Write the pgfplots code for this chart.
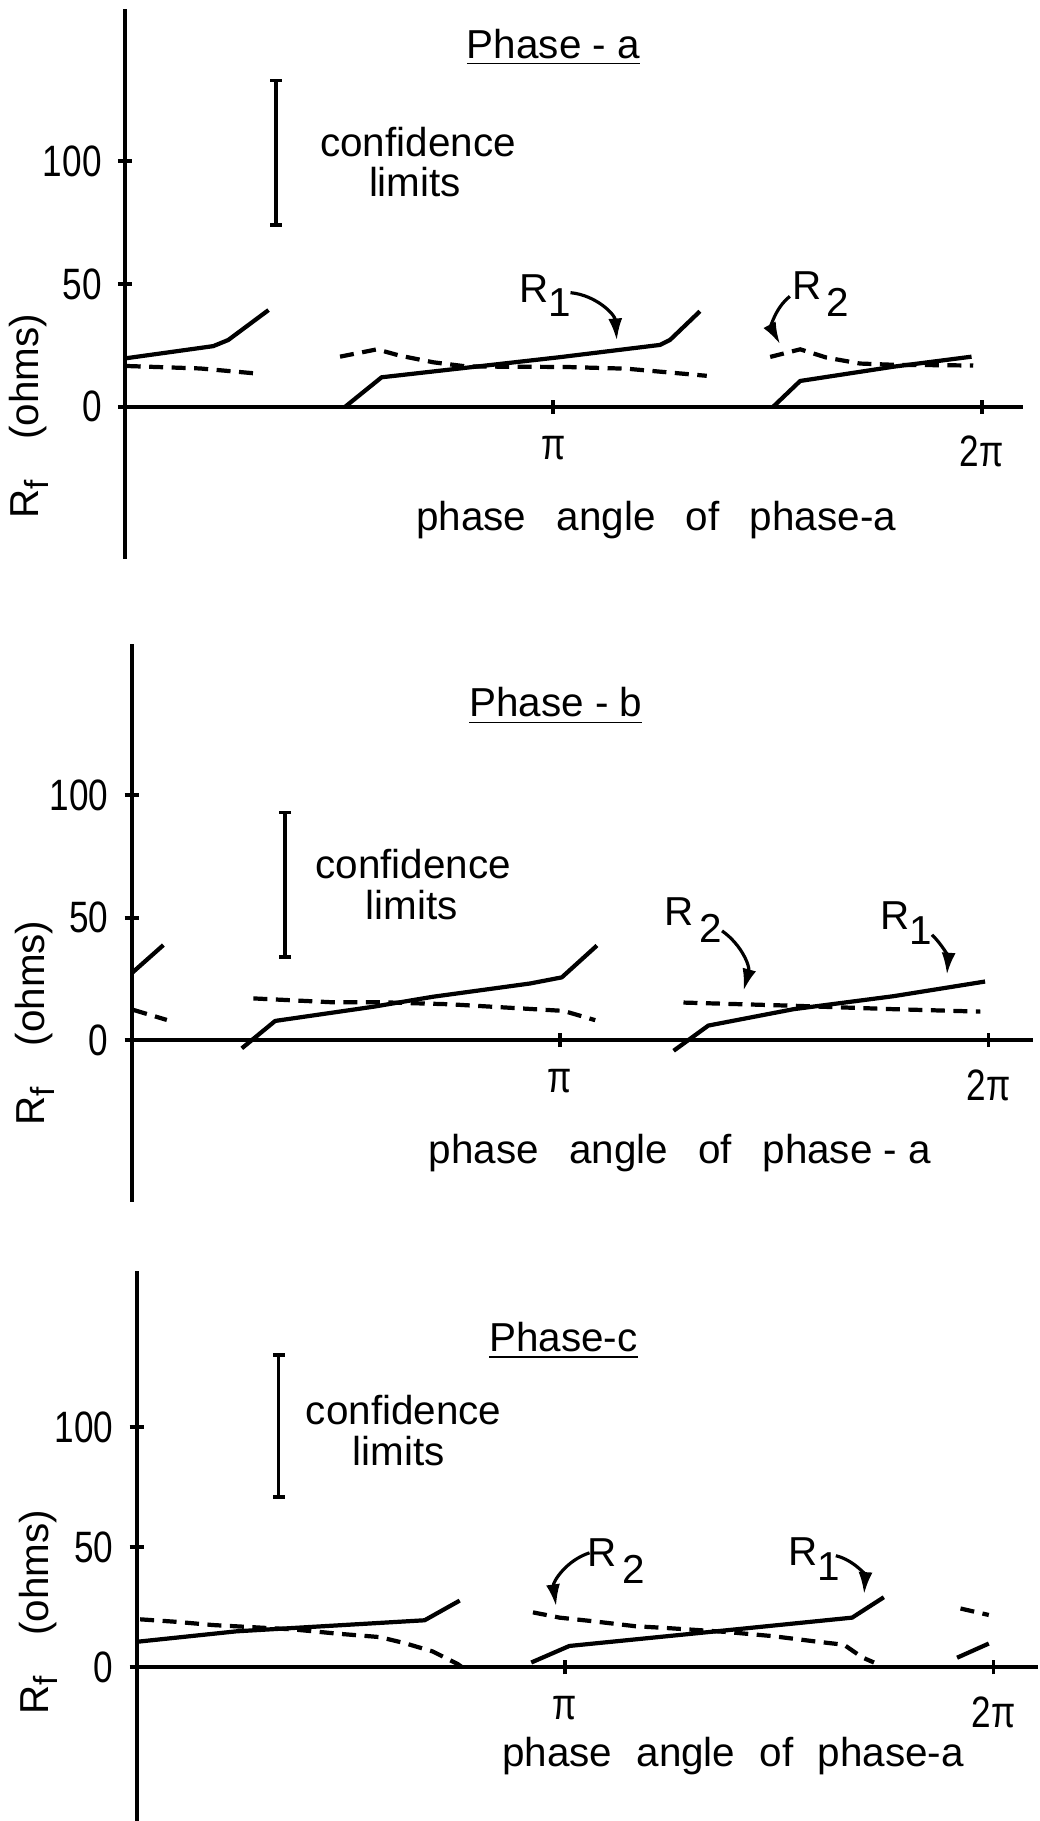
\documentclass[border=0pt]{standalone}
\usepackage{fontspec}
\setmainfont{Liberation Sans}
\newfontfamily\narrowdigitsfont{Liberation Sans}[FakeStretch=0.8]
\usepackage{pgfplots}
\pgfplotsset{compat=1.18}
\usetikzlibrary{arrows.meta}

\tikzset{arr/.style={line width=0.9pt, -{Latex[length=2.2mm,width=1.4mm]}}}
\pgfplotsset{
  panel/.style={
    x=42.84mm, xmin=0,
    axis x line=middle, axis y line=left,
    axis line style={-, line width=1.1pt, black},
    every inner x axis line/.append style={-},
    every outer y axis line/.append style={-},
    xtick={1,2}, xticklabels={π,2π},
    ytick={0,50,100},
    tick align=center, major tick length=1.4mm,
    tick style={line width=1.1pt, black},
    hide obscured x ticks=false, hide obscured y ticks=false,
    clip=false, enlargelimits=false,
    xticklabel style={yshift=-1mm},
    yticklabel style={xshift=-0.4mm},
    anchor=south west,
    /pgf/number format/assume math mode=true,
    tick label style={font=\narrowdigitsfont\fontsize{12.5}{14}\selectfont},
  },
  Rone/.style={black, line width=1.2pt, line join=round, mark=none},
  Rtwo/.style={black, line width=1.2pt, dash pattern=on 1.4mm off 0.85mm, mark=none},
  conf/.style={black, line width=1.1pt, mark=-, mark size=0.6mm, mark options={solid, line width=1.1pt}},
}

\begin{document}
\begin{tikzpicture}[font=\fontsize{11.5}{13.8}\selectfont]

% ---------------- Phase a ----------------
\begin{axis}[panel, y=0.2453mm, ymin=-62, ymax=162, xmax=2.096, at={(12.5mm,-55.88mm)}]
\addplot[Rone] coordinates {(0,19.7) (0.206,24.7) (0.241,27.2) (0.335,39.4)};
\addplot[Rtwo] coordinates {(0.004,16.6) (0.175,15.6) (0.303,13.6)};
\addplot[Rone] coordinates {(0.514,0) (0.599,12) (1.015,20.2) (1.249,25.2) (1.272,27.2) (1.342,38.9)};
\addplot[Rtwo] coordinates {(0.502,20.4) (0.588,23.4) (0.642,20.8) (0.72,18.1) (0.798,16.4) (1.03,16.2) (1.171,15.5) (1.358,12.6)};
\addplot[Rone] coordinates {(1.513,0) (1.576,10.5) (1.793,16.3) (1.976,20.4)};
\addplot[Rtwo] coordinates {(1.506,20.3) (1.576,23.4) (1.638,20) (1.716,17.6) (1.793,17.1) (1.98,16.8)};
\addplot[conf] coordinates {(0.352,74) (0.352,133)};
\node at (axis cs:1.0,146.6) {\underline{Phase - a}};
\node at (axis cs:0.684,108) {confidence};
\node at (axis cs:0.677,91.6) {limits};
\node at (axis cs:1.24,-46) {phase\hspace{0.75em}angle\hspace{0.75em}of\hspace{0.75em}phase-a};
\node[rotate=90] at (axis cs:-0.224,-3.8) {R\raisebox{-0.45ex}{\fontsize{9.5}{11}\selectfont f}\hspace{1em}(ohms)};
\node at (axis cs:0.98,45.3) {R\raisebox{-0.7ex}{1}};
\draw[arr] (axis cs:1.04,46.5) to[bend left=40] (axis cs:1.148,27);
\node at (axis cs:1.625,45.9) {R\kern0.12em\raisebox{-0.8ex}{2}};
\draw[arr] (axis cs:1.552,45) to[bend right=40] (axis cs:1.529,25.5);
\end{axis}

% ---------------- Phase b ----------------
\begin{axis}[panel, y=0.2447mm, ymin=-66, ymax=162, xmax=2.104, at={(13.17mm,-120.15mm)}]
\addplot[Rone] coordinates {(0,27.3) (0.074,38.8)};
\addplot[Rtwo] coordinates {(0.004,12.3) (0.082,8.2)};
\addplot[Rone] coordinates {(0.257,-3.4) (0.335,7.8) (0.564,13.6) (0.704,17.7) (0.93,23.1) (1.004,25.6) (1.086,38.6)};
\addplot[Rtwo] coordinates {(0.284,17) (0.471,15.4) (0.587,15.4) (0.743,14.6) (1.008,11.9) (1.082,8.1)};
\addplot[Rone] coordinates {(1.265,-4.4) (1.346,5.9) (1.545,12.6) (1.778,17.9) (1.992,23.9)};
\addplot[Rtwo] coordinates {(1.288,15.3) (1.545,14) (1.778,12.6) (1.981,11.6)};
\addplot[conf] coordinates {(0.358,34) (0.358,93)};
\node at (axis cs:0.99,136.5) {\underline{Phase - b}};
\node at (axis cs:0.657,72) {confidence};
\node at (axis cs:0.654,55) {limits};
\node at (axis cs:1.28,-46) {phase\hspace{0.75em}angle\hspace{0.75em}of\hspace{0.75em}phase - a};
\node[rotate=90] at (axis cs:-0.226,7) {R\raisebox{-0.45ex}{\fontsize{9.5}{11}\selectfont f}\hspace{1em}(ohms)};
\node at (axis cs:1.311,48.9) {R\kern0.15em\raisebox{-0.8ex}{2}};
\draw[arr] (axis cs:1.378,44.6) to[bend left=35] (axis cs:1.428,20.1);
\node at (axis cs:1.808,47.8) {R\raisebox{-0.7ex}{1}};
\draw[arr] (axis cs:1.868,43) to[bend left=25] (axis cs:1.903,26.7);
\end{axis}

% ---------------- Phase c ----------------
\begin{axis}[panel, y=0.24mm, ymin=-64, ymax=165, xmax=2.103, at={(13.67mm,-182.09mm)}]
\addplot[Rone] coordinates {(0.004,10.7) (0.233,15) (0.672,19.6) (0.754,27.8)};
\addplot[Rtwo] coordinates {(0.008,20) (0.089,19) (0.179,17.6) (0.365,15.8) (0.47,14) (0.567,12.6) (0.625,10.1) (0.691,6.6) (0.749,1.4) (0.76,0)};
\addplot[Rone] coordinates {(0.921,2) (1.01,8.9) (1.375,15.4) (1.67,20.7) (1.744,29.2)};
\addplot[Rtwo] coordinates {(0.925,22.9) (0.987,20.7) (1.06,19.3) (1.165,17.1) (1.235,16.4) (1.379,14.7) (1.484,13) (1.592,10.6) (1.651,9.4) (1.694,4.1) (1.721,2)};
\addplot[Rone] coordinates {(1.915,4) (1.989,9.9)};
\addplot[Rtwo] coordinates {(1.923,24.5) (1.989,21.8)};
\addplot[conf] coordinates {(0.331,71) (0.331,130)};
\node at (axis cs:0.996,136) {\underline{Phase-c}};
\node at (axis cs:0.623,107) {confidence};
\node at (axis cs:0.611,90) {limits};
\node at (axis cs:1.392,-37) {phase\hspace{0.6em}angle\hspace{0.6em}of\hspace{0.6em}phase-a};
\node[rotate=90] at (axis cs:-0.23,23) {R\raisebox{-0.45ex}{\fontsize{9.5}{11}\selectfont f}\hspace{1em}(ohms)};
\node at (axis cs:1.12,44.2) {R\kern0.15em\raisebox{-0.8ex}{2}};
\draw[arr] (axis cs:1.057,47.7) to[bend right=40] (axis cs:0.979,25.4);
\node at (axis cs:1.581,45) {R\raisebox{-0.7ex}{1}};
\draw[arr] (axis cs:1.632,46.5) to[bend left=40] (axis cs:1.698,30.5);
\end{axis}

\pgfresetboundingbox
\path[use as bounding box] (0,0) rectangle (104mm,-182.1mm);
\end{tikzpicture}
\end{document}
